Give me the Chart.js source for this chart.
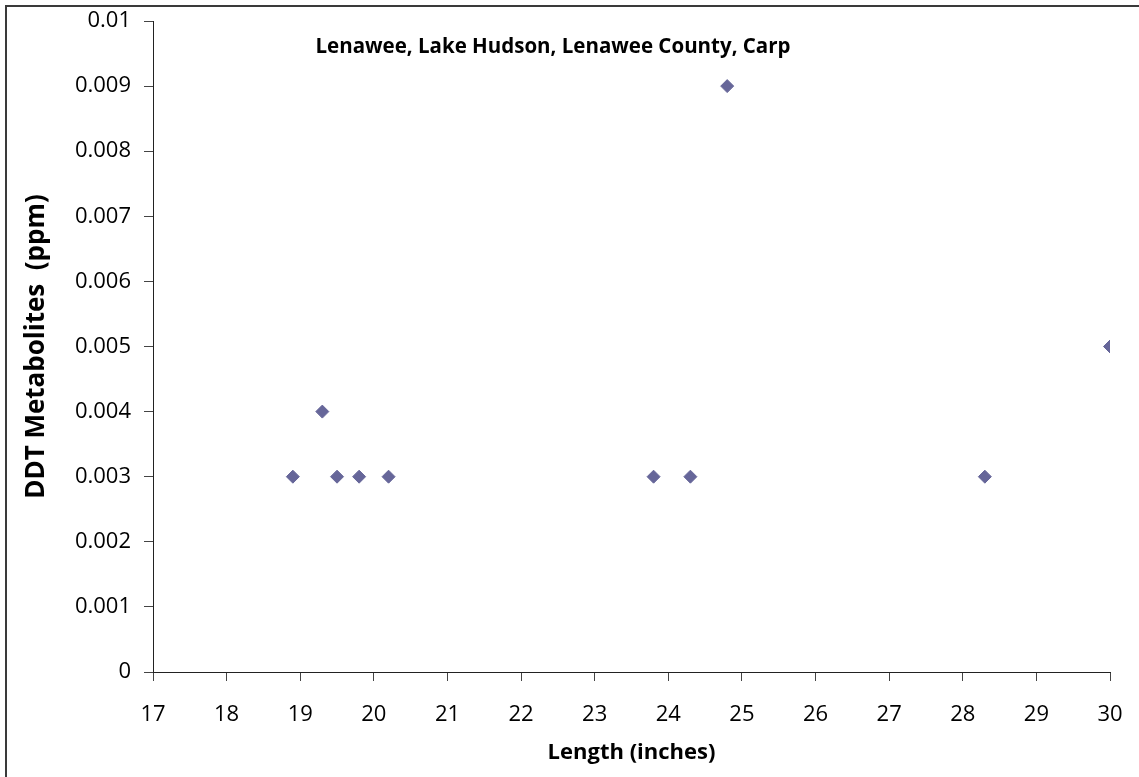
<!DOCTYPE html>
<html>
<head>
<meta charset="utf-8">
<script src="https://cdn.jsdelivr.net/npm/chart.js@4"></script>
<style>
  html, body { margin: 0; padding: 0; background: #fff; }
  #wrap { width: 1139px; height: 777px; position: relative; }
</style>
</head>
<body>
<div id="wrap"><canvas id="c" width="1139" height="777"></canvas></div>
<script>
const chartTitle = 'Lenawee, Lake Hudson, Lenawee County, Carp';
const xAxisTitle = 'Length (inches)';
const yAxisTitle = 'DDT Metabolites  (ppm)';
const lengths = [18.9, 19.3, 19.5, 19.8, 20.2, 23.8, 24.3, 24.8, 28.3, 30.0];
const ddt     = [0.003, 0.004, 0.003, 0.003, 0.003, 0.003, 0.003, 0.009, 0.003, 0.005];
const xMin = 17, xMax = 30, xStep = 1;
const yMin = 0, yMax = 0.01, yStep = 0.001;

const points = lengths.map((x, i) => ({ x: x, y: ddt[i] }));
const FONT = "'Open Sans', 'Liberation Sans', sans-serif";

const decor = {
  id: 'decor',
  afterDraw(chart) {
    const ctx = chart.ctx;
    ctx.save();
    ctx.strokeStyle = '#3a3a3a';
    ctx.lineWidth = 2;
    ctx.beginPath();
    ctx.moveTo(6, 1200);
    ctx.lineTo(6, 6);
    ctx.lineTo(2000, 6);
    ctx.stroke();
    ctx.fillStyle = '#000';
    ctx.font = 'bold 20.5px ' + FONT;
    ctx.textAlign = 'center';
    ctx.textBaseline = 'middle';
    ctx.fillText(chartTitle, 553, 47);
    ctx.restore();
  }
};

new Chart(document.getElementById('c'), {
  type: 'scatter',
  data: {
    datasets: [{
      data: points,
      pointStyle: 'rectRot',
      pointRadius: 6.5,
      pointHoverRadius: 6.5,
      backgroundColor: '#666699',
      borderColor: '#666699',
      borderWidth: 1
    }]
  },
  options: {
    responsive: false,
    animation: false,
    devicePixelRatio: 1,
    layout: { padding: { left: 0, right: 29, top: 21, bottom: 0 } },
    plugins: { legend: { display: false }, tooltip: { enabled: false }, title: { display: false } },
    scales: {
      x: {
        type: 'linear',
        min: xMin, max: xMax,
        afterFit(s) { s.height = 105; },
        ticks: { stepSize: xStep, color: '#000', font: { family: FONT, size: 22, lineHeight: 2.3 }, padding: 8 },
        grid: { display: true, drawOnChartArea: false, drawTicks: true, tickLength: 9, color: '#444' },
        border: { display: true, color: '#222', width: 1 },
        title: { display: true, text: xAxisTitle, color: '#000', font: { family: FONT, size: 22, weight: 'bold' }, padding: { top: 0, bottom: 11 } }
      },
      y: {
        type: 'linear',
        min: yMin, max: yMax,
        afterFit(s) { s.width = 153; },
        ticks: { stepSize: yStep, color: '#000', font: { family: FONT, size: 22, lineHeight: 0.7 }, padding: 13,
          callback: (v) => String(parseFloat(v.toFixed(3))) },
        grid: { display: true, drawOnChartArea: false, drawTicks: true, tickLength: 9, color: '#444' },
        border: { display: true, color: '#222', width: 1 },
        title: { display: true, text: yAxisTitle, color: '#000', font: { family: FONT, size: 26, weight: 'bold' }, padding: { top: 21, bottom: 0 } }
      }
    }
  },
  plugins: [decor]
});
</script>
</body>
</html>
